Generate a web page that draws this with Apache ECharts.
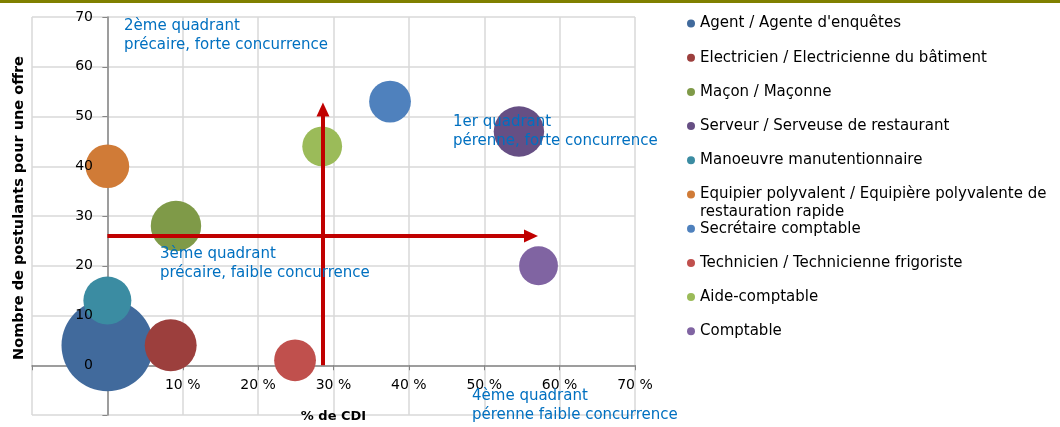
<!DOCTYPE html>
<html>
<head>
<meta charset="utf-8">
<script src="https://cdn.jsdelivr.net/npm/echarts@6/dist/echarts.min.js"></script>
<style>
html,body{margin:0;padding:0;background:#fff;}
#c{width:1060px;height:427px;}
</style>
</head>
<body>
<div id="c"></div>
<script>
// ---- data ----
const jobs = [
  "Agent / Agente d'enquêtes",
  "Electricien / Electricienne du bâtiment",
  "Maçon / Maçonne",
  "Serveur / Serveuse de restaurant",
  "Manoeuvre manutentionnaire",
  "Equipier polyvalent / Equipière polyvalente de restauration rapide",
  "Secrétaire comptable",
  "Technicien / Technicienne frigoriste",
  "Aide-comptable",
  "Comptable"
];
const pctCDI = [0, 8.4, 9.1, 54.6, 0, 0, 37.5, 24.9, 28.5, 57.2];      // % de CDI
const postulants = [4, 4, 28, 47, 13, 40, 53, 1, 44, 20];               // postulants per offer
const bubbleSize = [53, 17, 16, 16, 14.5, 12, 11, 11, 10, 9.5];         // bubble size value
const colors = ['#416a9c','#9c3f3d','#7f9a48','#664f84','#3b8ca2','#d07b37','#4f81bd','#c0504d','#9bbb59','#8064a2'];
const xTicks = [-10, 0, 10, 20, 30, 40, 50, 60, 70];
const yTicks = [-10, 0, 10, 20, 30, 40, 50, 60, 70];
const hArrow = [[0, 26], [56.2, 26]];
const vArrow = [[28.6, 0], [28.6, 51.4]];
const quadrantTexts = [
  "2ème quadrant\nprécaire, forte concurrence",
  "1er quadrant\npérenne, forte concurrence",
  "3ème quadrant\nprécaire, faible concurrence",
  "4ème quadrant\npérenne faible concurrence"
];
const wrapSplit = "polyvalente de ";   // legend entry wraps after this

const FONT = 'DejaVu Sans';
const chart = echarts.init(document.getElementById('c'));

const series = [{
  type: 'scatter', name: '_arrows', data: [], z: 1, silent: true,
  markLine: {
    silent: true, animation: false,
    symbol: ['none', 'triangle'], symbolSize: [13, 14],
    label: {show: false},
    lineStyle: {color: '#c00000', width: 4, type: 'solid'},
    emphasis: {disabled: true},
    data: [
      [{coord: hArrow[0]}, {coord: hArrow[1]}],
      [{coord: vArrow[0]}, {coord: vArrow[1]}]
    ]
  }
}];
jobs.forEach((j, i) => {
  series.push({
    type: 'scatter', name: j, z: 2,
    itemStyle: {color: colors[i], opacity: 1},
    symbolSize: d => 12.6 * Math.sqrt(d[2]),
    data: [[pctCDI[i], postulants[i], bubbleSize[i]]]
  });
});

const wrapped = jobs.find(n => n.indexOf(wrapSplit) >= 0);
const wrapIdx = wrapped.indexOf(wrapSplit) + wrapSplit.length;

const qFont = '15px "DejaVu Sans"';
const yMin = yTicks[0], yMax = yTicks[yTicks.length - 1];
chart.setOption({
  animation: false,
  grid: {left: 32, top: 17, right: 425, bottom: 12, outerBoundsMode: 'none', containLabel: false},
  xAxis: {
    type: 'value', min: xTicks[0], max: xTicks[xTicks.length - 1], interval: 10,
    name: '% de CDI', nameLocation: 'middle', nameGap: -5,
    nameTextStyle: {fontFamily: FONT, fontWeight: 'bold', fontSize: 13, color: '#000'},
    axisLine: {onZero: true, lineStyle: {color: '#868686', width: 1.5}},
    axisTick: {show: true, length: 5, lineStyle: {color: '#868686'}},
    axisLabel: {fontFamily: FONT, fontSize: 14, color: '#000', margin: -37,
      formatter: v => v > 0 ? v + ' %' : ''},
    splitLine: {show: true, lineStyle: {color: '#d9d9d9', width: 1.5}}
  },
  yAxis: [{
    type: 'value', position: 'left', min: yMin, max: yMax, interval: 10,
    name: 'Nombre de postulants pour une offre', nameLocation: 'middle', nameGap: 5,
    nameTextStyle: {fontFamily: FONT, fontWeight: 'bold', fontSize: 14.5, color: '#000', padding: [0, 0, 0, 16]},
    axisLine: {onZero: true, lineStyle: {color: '#868686', width: 1.5}},
    axisTick: {show: true, length: 5, lineStyle: {color: '#868686'}},
    axisLabel: {show: false},
    splitLine: {show: true, lineStyle: {color: '#d9d9d9', width: 1.5}}
  }, {
    type: 'value', position: 'left', min: yMin, max: yMax, interval: 10, z: 20,
    axisLine: {show: false}, axisTick: {show: false}, splitLine: {show: false},
    axisLabel: {fontFamily: FONT, fontSize: 14, color: '#000', margin: -61,
      formatter: v => v >= 0 ? String(v) : ''}
  }],
  legend: {
    orient: 'vertical', left: 687, top: 14, padding: 0,
    data: jobs, icon: 'circle', itemWidth: 8, itemHeight: 8, itemGap: 15.2,
    formatter: n => n === wrapped ? n.slice(0, wrapIdx).trim() : n,
    textStyle: {fontFamily: FONT, fontSize: 15, color: '#000', height: 19, lineHeight: 19}
  },
  graphic: [
    {type: 'rect', left: 0, top: 0, shape: {width: 1060, height: 3}, style: {fill: '#808000'}},
    {type: 'text', left: 700, top: 205, z: 50, style: {text: wrapped.slice(wrapIdx), fill: '#000', font: '15px "DejaVu Sans"'}},
    {type: 'text', left: 124, top: 17, z: 50, style: {text: quadrantTexts[0], fill: '#0070c0', font: qFont, lineHeight: 19}},
    {type: 'text', left: 453, top: 113, z: 50, style: {text: quadrantTexts[1], fill: '#0070c0', font: qFont, lineHeight: 19}},
    {type: 'text', left: 160, top: 245, z: 50, style: {text: quadrantTexts[2], fill: '#0070c0', font: qFont, lineHeight: 19}},
    {type: 'text', left: 472, top: 387, z: 50, style: {text: quadrantTexts[3], fill: '#0070c0', font: qFont, lineHeight: 19}}
  ],
  series: series
});
</script>
</body>
</html>
